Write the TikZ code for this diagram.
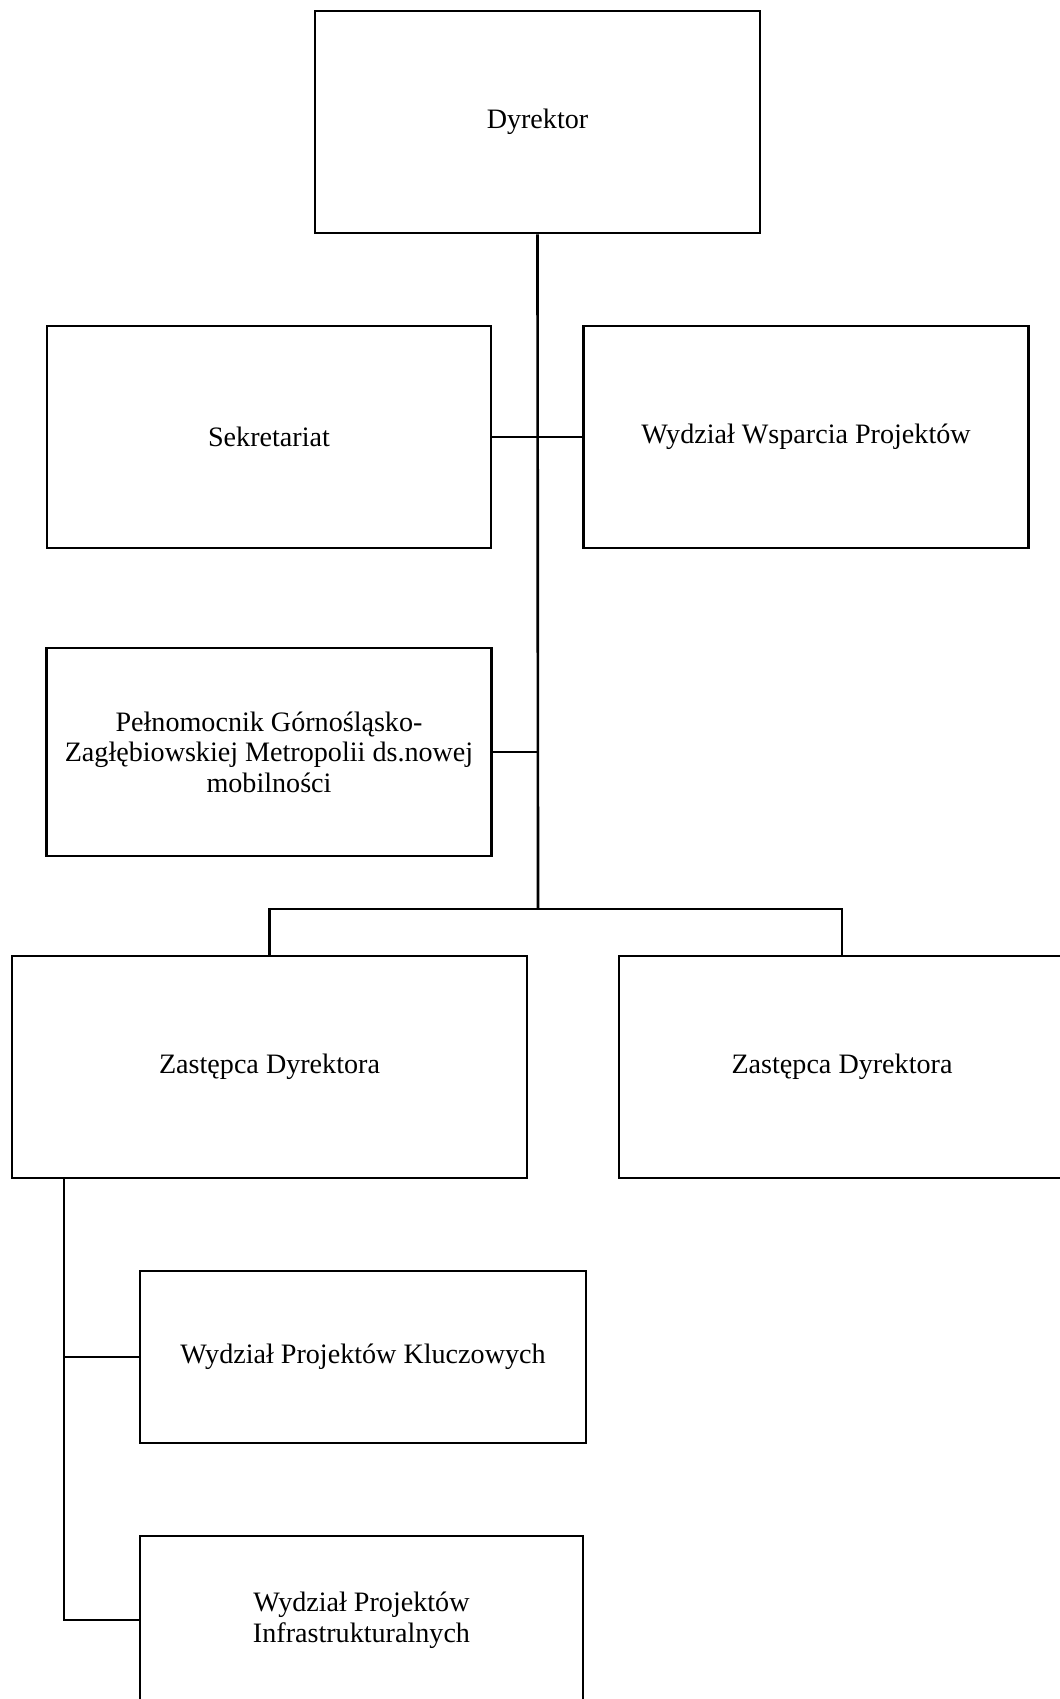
\documentclass[tikz,border=0pt]{standalone}
\usepackage{fontspec}
\setmainfont{Liberation Serif}
\usepackage{tikz}
\usetikzlibrary{calc}
\tikzstyle{unit}=[rectangle, draw, line width=1.5pt, align=center,% a plain box
inner sep=2pt, font=\fontsize{16}{17.4}\selectfont]
\tikzstyle{link}=[-, line width=1.5pt]

\begin{document}
\begin{tikzpicture}[link]
\useasboundingbox (0,0) rectangle (21.2,-33.98);
\node[unit,minimum width=8.9cm,minimum height=4.44cm] (dyr) at (10.75,-2.44) {Dyrektor};
\node[unit,minimum width=8.88cm,minimum height=4.44cm] (sek) at (5.38,-8.74) {Sekretariat};
\node[unit,minimum width=8.9cm,minimum height=4.44cm] (wsp) at (16.12,-8.74) {Wydział Wsparcia Projektów};
\node[unit,minimum width=8.9cm,minimum height=4.16cm] (pel) at (5.38,-15.04) {Pełnomocnik Górnośląsko-\\Zagłębiowskiej Metropolii ds.nowej\\mobilności};
\node[unit,minimum width=10.3cm,minimum height=4.44cm] (zast1) at (5.39,-21.34) {Zastępca Dyrektora};
\node[unit,minimum width=8.92cm,minimum height=4.44cm] (zast2) at (16.84,-21.34) {Zastępca Dyrektora};
\node[unit,minimum width=8.92cm,minimum height=3.44cm] (klucz) at (7.26,-27.14) {Wydział Projektów Kluczowych};
\node[unit,minimum width=8.86cm,minimum height=3.36cm] (infra) at (7.23,-32.4) {Wydział Projektów\\Infrastrukturalnych};
\coordinate (bar) at (10.76,-18.18);
\coordinate (tr) at (1.28,-23.56);
\draw(dyr.south) -- (bar);
\draw(sek.east) -- (wsp.west);
\draw(pel.east) -- (pel.east -| bar);
\draw(zast1.north) |- (bar) -| (zast2.north);
\draw(tr) |- (infra.west);
\draw(tr |- klucz.west) -- (klucz.west);
\end{tikzpicture}
\end{document}
